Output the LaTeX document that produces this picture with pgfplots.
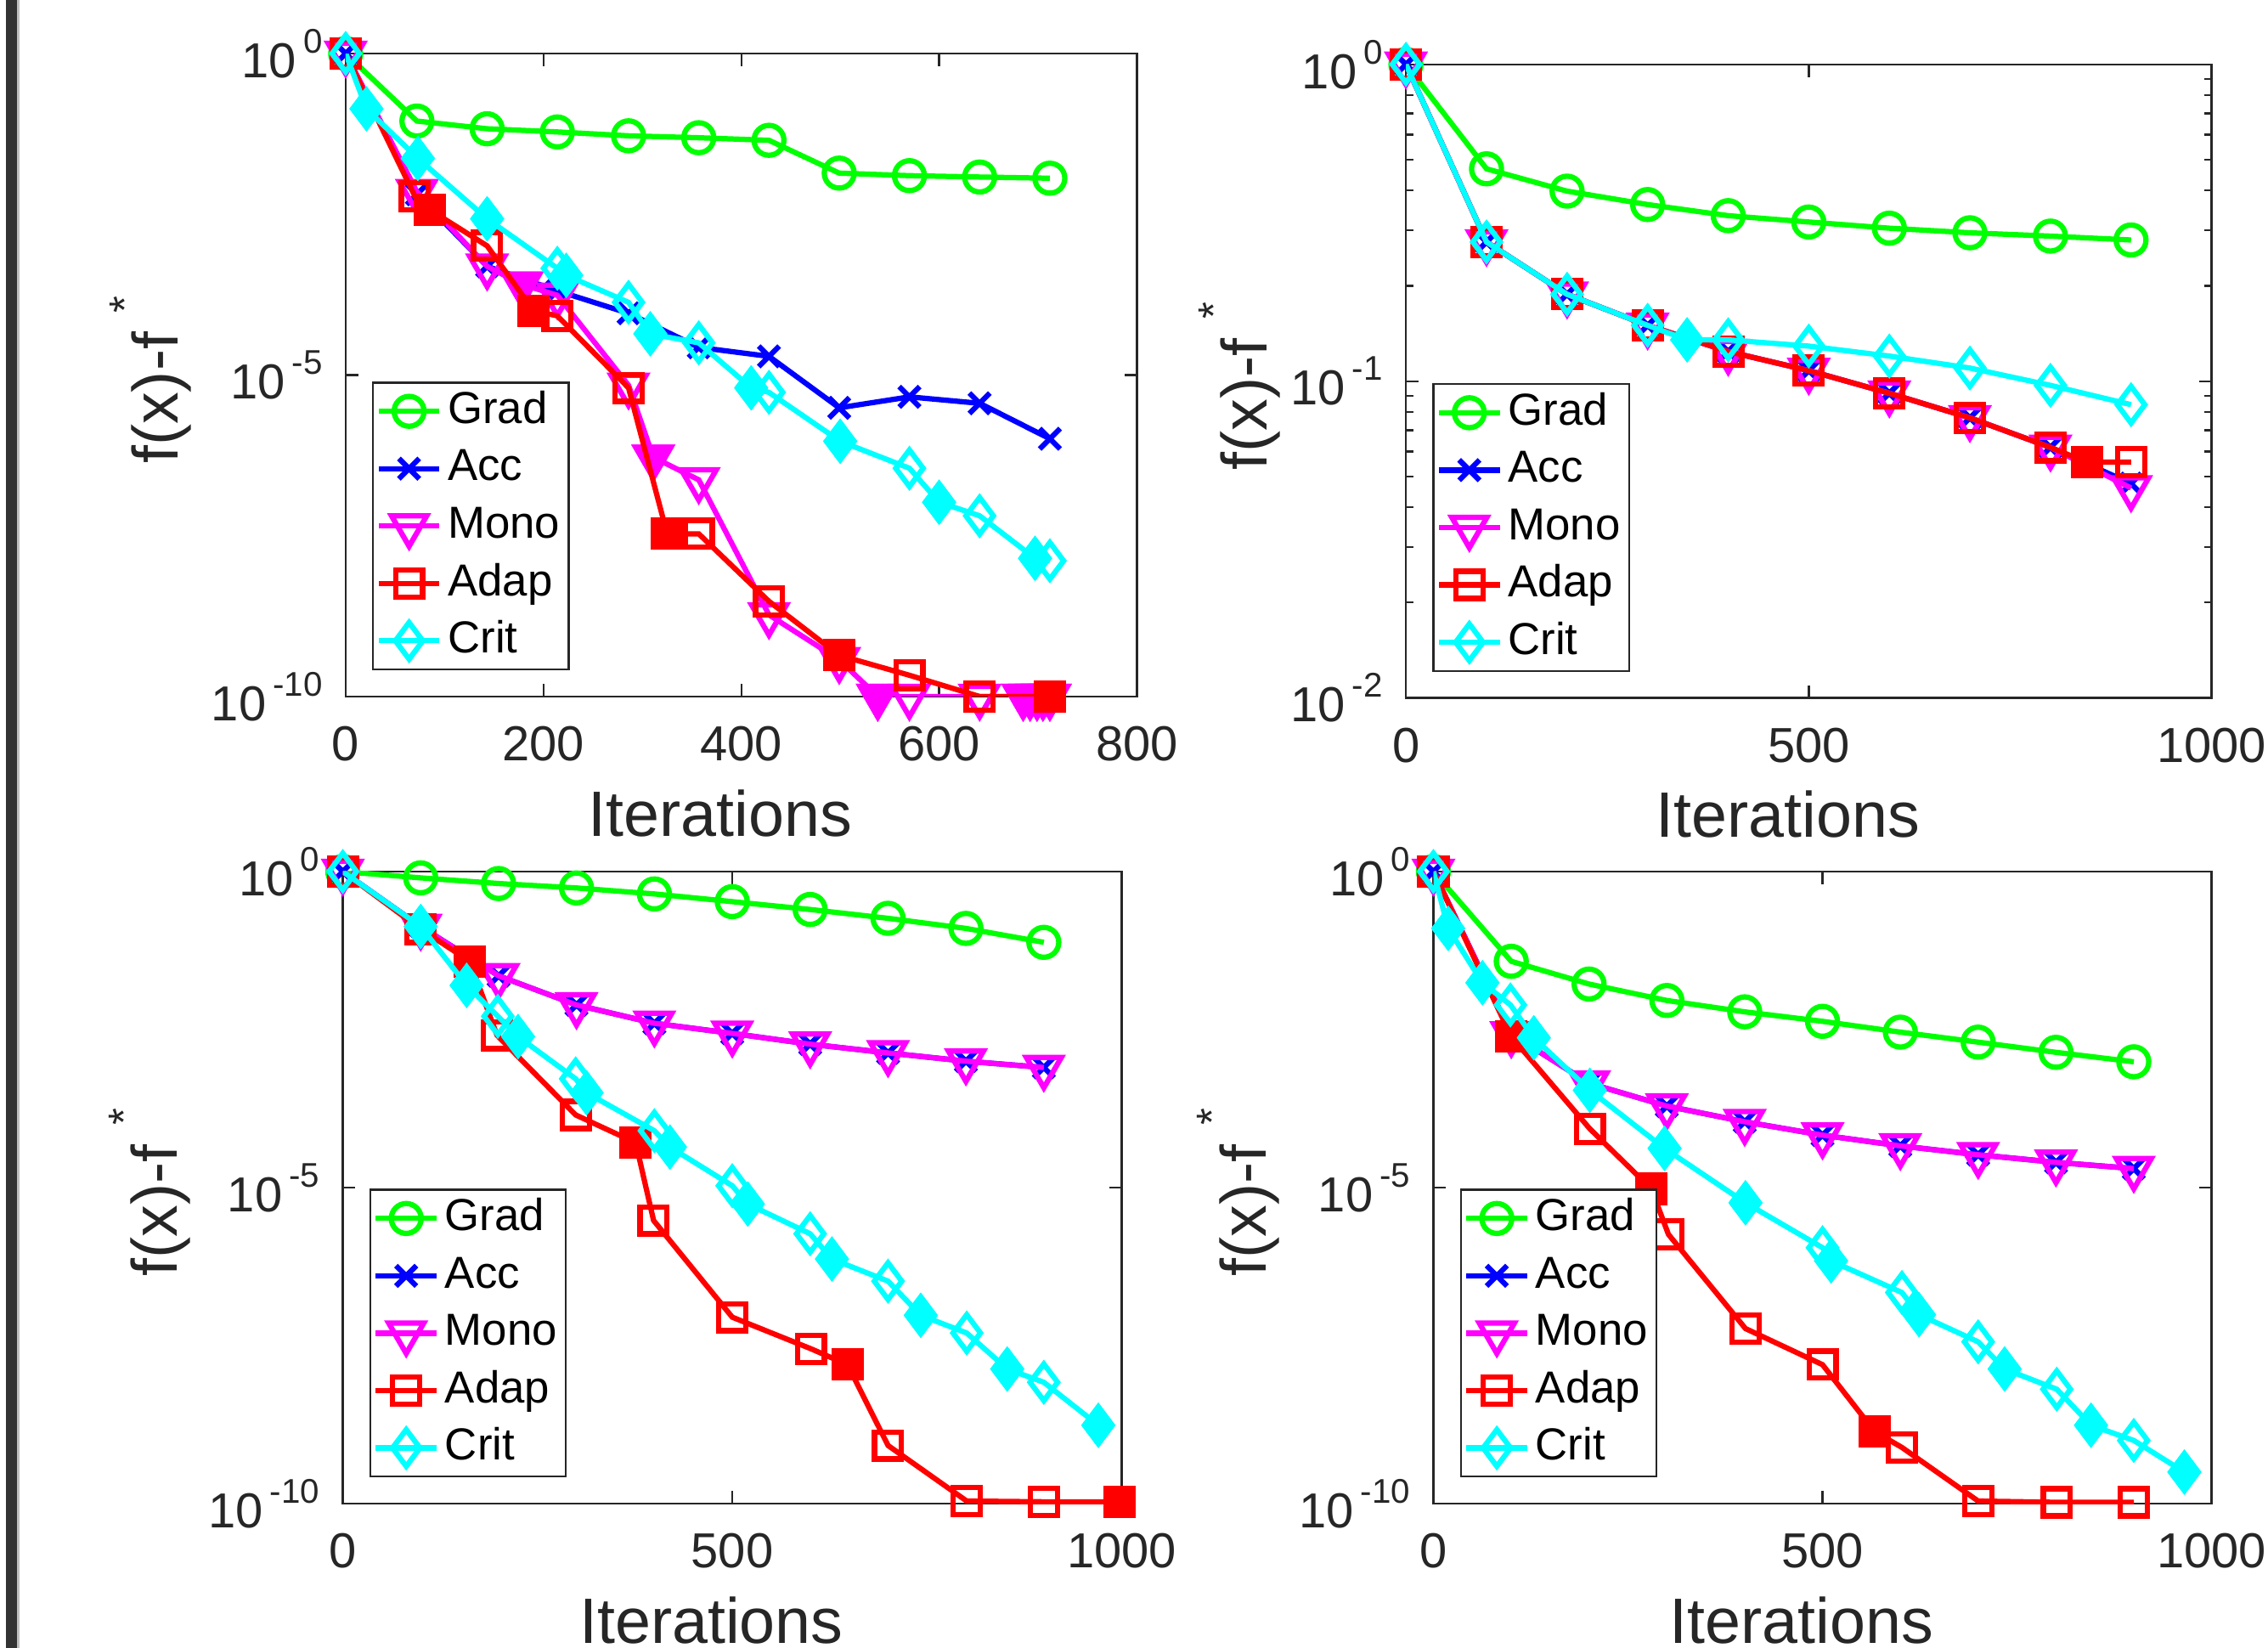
\documentclass[border=0pt]{standalone}
\usepackage{fontspec}
\setmainfont{Liberation Sans}
\usepackage{pgfplots}
\pgfplotsset{compat=1.18}
\definecolor{axgray}{rgb}{0.15,0.15,0.15}
\definecolor{barc}{rgb}{0.2,0.2,0.2}
\definecolor{cgreen}{rgb}{0,1,0}
\definecolor{cblue}{rgb}{0,0,1}
\definecolor{cmag}{rgb}{1,0,1}
\definecolor{cred}{rgb}{1,0,0}
\definecolor{ccyan}{rgb}{0,1,1}
\newcommand{\ylab}[1]{10\hspace{1.4pt}\raisebox{5.1pt}{\fontsize{7.1}{7.1}\selectfont #1}}
\newcommand{\fylab}{f(x)-f\hspace{4pt}\raisebox{8pt}{\fontsize{9}{9}\selectfont *}}
\newcommand{\labfont}{\fontsize{13.3}{14}\selectfont}

\pgfplotsset{
  panel/.style={
    scale only axis, clip mode=individual,
    axis line style={axgray, line width=0.4pt},
    tick style={axgray, line width=0.4pt},
    tick align=inside, major tick length=2.6pt, minor tick length=1.5pt,
    ticklabel style={font=\fontsize{10.2}{11}\selectfont, text=axgray},
    xticklabel style={anchor=center, yshift=-9.8pt},
    yticklabel style={anchor=east, xshift=-1.3pt},
    legend style={at={(0,0)}, anchor=south west, xshift=5.5pt, yshift=5.4pt,
      draw=axgray, line width=0.4pt, font=\fontsize{9.3}{10}\selectfont,
      inner xsep=0.6pt, inner ysep=0pt,
      nodes={inner xsep=1.2pt, inner ysep=1.45pt, text height=7pt, text depth=2pt}},
    legend cell align=left,
    legend image code/.code={\draw[mark repeat=2,mark phase=2] plot coordinates {(0pt,0pt)(6.3pt,0pt)(12.6pt,0pt)};},
    every axis plot/.append style={line width=1.1pt},
  },
  sgrad/.style={cgreen, mark=o, mark size=3.1pt},
  sacc/.style={cblue, mark=x, mark size=3pt},
  smono/.style={cmag, mark=triangle, mark size=4.2pt, mark options={rotate=180}},
  smonof/.style={cmag, only marks, mark=triangle*, mark size=4.2pt, mark options={rotate=180, fill=cmag}},
  sadap/.style={cred, mark=square, mark size=2.8pt},
  sadapf/.style={cred, only marks, mark=square*, mark size=2.8pt, mark options={fill=cred}},
  scrit/.style={ccyan, mark=diamond, mark size=3.8pt},
  scritf/.style={ccyan, only marks, mark=diamond*, mark size=3.8pt, mark options={fill=ccyan}},
}
\newcommand{\legs}{\addlegendentry{Grad}}

\begin{document}
\begin{tikzpicture}
\path[use as bounding box] (0,0) rectangle (470.4pt,-341.7pt);
\fill[barc] (1.2pt,0) rectangle (3.6pt,-341.7pt);
\fill[black!25] (3.6pt,0) rectangle (4.0pt,-341.7pt);

% top left
\begin{axis}[panel, ymode=log, log basis y=10, at={(71.7pt,-11.1pt)}, anchor=north west,
  width=164.1pt, height=133.35pt,
  xmin=0, xmax=800, xtick={0,200,400,600,800}, xticklabels={0,200,400,600,800},
  ymin=1e-10, ymax=1, ytick={1e-10,1e-5,1}, yminorticks=false,
  yticklabels={\ylab{-10},\ylab{-5},\ylab{0}}]
\addplot[sgrad] coordinates {(0,1)(72,0.0891)(143,0.0676)(214,0.0603)(286,0.0525)(357,0.0490)(428,0.0447)(499,0.0138)(570,0.0126)(641,0.0120)(712,0.0115)};
\addlegendentry{Grad}
\addplot[sacc] coordinates {(0,1)(72,6.46e-3)(143,4.90e-4)(214,2.04e-4)(286,9.12e-5)(357,2.69e-5)(428,1.95e-5)(499,3.09e-6)(570,4.57e-6)(641,3.63e-6)(712,1.02e-6)};
\addlegendentry{Acc}
\addplot[smono] coordinates {(0,1)(72,7.08e-3)(143,4.90e-4)(178,2.57e-4)(214,1.74e-4)(286,6.92e-6)(311,5.25e-7)(357,2.34e-7)(428,1.86e-9)(499,3.72e-10)(538,1e-10)(570,1e-10)(641,1e-10)(685,1e-10)(692,1e-10)(699,1e-10)(705,1e-10)(712,1e-10)};
\addlegendentry{Mono\hspace{2.5pt}}
\addplot[smonof, forget plot] coordinates {(178,2.57e-4)(311,5.25e-7)(538,1e-10)(685,1e-10)(692,1e-10)(699,1e-10)(705,1e-10)(712,1e-10)};
\addplot[sadap] coordinates {(0,1)(70,6.03e-3)(85,3.72e-3)(143,1.02e-3)(190,1e-4)(214,8.32e-5)(286,6.31e-6)(325,3.39e-8)(357,3.39e-8)(428,3.02e-9)(499,4.37e-10)(570,2.14e-10)(641,1e-10)(712,1e-10)};
\addlegendentry{Adap}
\addplot[sadapf, forget plot] coordinates {(85,3.72e-3)(190,1e-4)(325,3.39e-8)(499,4.37e-10)(712,1e-10)};
\addplot[scrit] coordinates {(0,1)(21,0.138)(73,0.0234)(143,2.69e-3)(214,4.57e-4)(223,3.55e-4)(286,1.35e-4)(308,4.37e-5)(357,3.16e-5)(410,6.31e-6)(428,5.37e-6)(500,9.33e-7)(570,3.55e-7)(600,1.05e-7)(641,6.46e-8)(697,1.41e-8)(712,1.29e-8)};
\addlegendentry{Crit}
\addplot[scritf, forget plot] coordinates {(21,0.138)(73,0.0234)(143,2.69e-3)(223,3.55e-4)(308,4.37e-5)(410,6.31e-6)(500,9.33e-7)(600,1.05e-7)(697,1.41e-8)};
\node[rotate=90, font=\labfont, text=axgray] at ([xshift=-40.5pt,yshift=-1pt]axis description cs:0,0.5) {\fylab};
\node[font=\labfont, text=axgray] at ([xshift=-4.35pt,yshift=-24.2pt]axis description cs:0.5,0) {Iterations};
\end{axis}

% top right
\begin{axis}[panel, ymode=log, log basis y=10, at={(291.6pt,-13.35pt)}, anchor=north west,
  width=167.1pt, height=131.4pt,
  xmin=0, xmax=1000, xtick={0,500,1000}, xticklabels={0,500,1000},
  ymin=1e-2, ymax=1, ytick={1e-2,1e-1,1},
  minor ytick={0.02,0.03,0.04,0.05,0.06,0.07,0.08,0.09,0.2,0.3,0.4,0.5,0.6,0.7,0.8,0.9},
  yticklabels={\ylab{-2},\ylab{-1},\ylab{0}}]
\addplot[sgrad] coordinates {(0,1)(100,0.468)(200,0.398)(300,0.361)(400,0.333)(500,0.318)(600,0.304)(700,0.294)(800,0.287)(900,0.279)};
\addlegendentry{Grad}
\addplot[sacc] coordinates {(0,1)(100,0.275)(200,0.188)(300,0.150)(400,0.124)(500,0.108)(600,0.0916)(700,0.0766)(800,0.0618)(900,0.0475)};
\addlegendentry{Acc}
\addplot[smono] coordinates {(0,1)(100,0.275)(200,0.188)(300,0.150)(400,0.124)(500,0.108)(600,0.0916)(700,0.0766)(800,0.0618)(900,0.0460)};
\addlegendentry{Mono\hspace{2.5pt}}
\addplot[sadap] coordinates {(0,1)(100,0.275)(200,0.188)(300,0.150)(400,0.124)(500,0.108)(600,0.0916)(700,0.0766)(800,0.0618)(845,0.0555)(900,0.0555)};
\addlegendentry{Adap}
\addplot[sadapf, forget plot] coordinates {(845,0.0555)};
\addplot[scrit] coordinates {(0,1)(100,0.275)(200,0.188)(300,0.150)(349,0.135)(400,0.135)(500,0.129)(600,0.120)(700,0.110)(800,0.0970)(900,0.0843)};
\addlegendentry{Crit}
\addplot[scritf, forget plot] coordinates {(349,0.135)};
\node[rotate=90, font=\labfont, text=axgray] at ([xshift=-34.5pt,yshift=-1pt]axis description cs:0,0.5) {\fylab};
\node[font=\labfont, text=axgray] at ([xshift=-4.35pt,yshift=-24.2pt]axis description cs:0.5,0) {Iterations};
\end{axis}

% bottom left
\begin{axis}[panel, ymode=log, log basis y=10, at={(71.1pt,-180.75pt)}, anchor=north west,
  width=161.55pt, height=131.1pt,
  xmin=0, xmax=1000, xtick={0,500,1000}, xticklabels={0,500,1000},
  ymin=1e-10, ymax=1, ytick={1e-10,1e-5,1}, yminorticks=false,
  yticklabels={\ylab{-10},\ylab{-5},\ylab{0}}]
\addplot[sgrad] coordinates {(0,1)(100,0.794)(200,0.646)(300,0.550)(400,0.442)(500,0.334)(600,0.251)(700,0.182)(800,0.126)(900,0.0759)};
\addlegendentry{Grad}
\addplot[sacc] coordinates {(0,1)(100,0.135)(200,0.0224)(300,7.76e-3)(400,3.98e-3)(500,2.75e-3)(600,1.86e-3)(700,1.35e-3)(800,1.0e-3)(900,7.94e-4)};
\addlegendentry{Acc}
\addplot[smono] coordinates {(0,1)(100,0.135)(200,0.0224)(300,7.76e-3)(400,3.98e-3)(500,2.75e-3)(600,1.86e-3)(700,1.35e-3)(800,1.0e-3)(900,7.94e-4)};
\addlegendentry{Mono\hspace{2.5pt}}
\addplot[sadap] coordinates {(0,1)(100,0.123)(163,0.0380)(198,2.57e-3)(299,1.41e-4)(376,5.13e-5)(399,3.02e-6)(500,8.91e-8)(601,2.82e-8)(648,1.58e-8)(700,8.32e-10)(801,1.10e-10)(900,1.07e-10)(997,1.07e-10)};
\addlegendentry{Adap}
\addplot[sadapf, forget plot] coordinates {(163,0.0380)(376,5.13e-5)(648,1.58e-8)(997,1.07e-10)};
\addplot[scrit] coordinates {(0,1)(100,0.135)(159,0.0158)(199,5.13e-3)(225,2.45e-3)(299,5.25e-4)(313,3.16e-4)(400,7.94e-5)(420,4.37e-5)(500,1.07e-5)(520,5.50e-6)(600,1.86e-6)(628,7.41e-7)(700,3.31e-7)(742,9.55e-8)(801,5.01e-8)(853,1.35e-8)(900,8.32e-9)(970,1.74e-9)};
\addlegendentry{Crit}
\addplot[scritf, forget plot] coordinates {(100,0.135)(159,0.0158)(225,2.45e-3)(313,3.16e-4)(420,4.37e-5)(520,5.50e-6)(628,7.41e-7)(742,9.55e-8)(853,1.35e-8)(970,1.74e-9)};
\node[rotate=90, font=\labfont, text=axgray] at ([xshift=-40pt,yshift=-1pt]axis description cs:0,0.5) {\fylab};
\node[font=\labfont, text=axgray] at ([xshift=-4.35pt,yshift=-24.2pt]axis description cs:0.5,0) {Iterations};
\end{axis}

% bottom right
\begin{axis}[panel, ymode=log, log basis y=10, at={(297.3pt,-180.75pt)}, anchor=north west,
  width=161.4pt, height=131.1pt,
  xmin=0, xmax=1000, xtick={0,500,1000}, xticklabels={0,500,1000},
  ymin=1e-10, ymax=1, ytick={1e-10,1e-5,1}, yminorticks=false,
  yticklabels={\ylab{-10},\ylab{-5},\ylab{0}}]
\addplot[sgrad] coordinates {(0,1)(100,0.0380)(200,0.0166)(300,9.12e-3)(400,6.03e-3)(500,4.27e-3)(600,2.88e-3)(700,2.0e-3)(800,1.38e-3)(900,9.77e-4)};
\addlegendentry{Grad}
\addplot[sacc] coordinates {(0,1)(100,2.69e-3)(200,4.47e-4)(300,1.95e-4)(400,1.10e-4)(500,6.76e-5)(600,4.57e-5)(700,3.31e-5)(800,2.51e-5)(900,2.0e-5)};
\addlegendentry{Acc}
\addplot[smono] coordinates {(0,1)(100,2.69e-3)(200,4.47e-4)(300,1.95e-4)(400,1.10e-4)(500,6.76e-5)(600,4.57e-5)(700,3.31e-5)(800,2.51e-5)(900,2.0e-5)};
\addlegendentry{Mono\hspace{2.5pt}}
\addplot[sadap] coordinates {(0,1)(100,2.45e-3)(201,8.51e-5)(280,9.55e-6)(302,1.82e-6)(401,5.89e-8)(500,1.58e-8)(567,1.38e-9)(602,7.76e-10)(700,1.10e-10)(801,1.05e-10)(900,1.05e-10)};
\addlegendentry{Adap}
\addplot[sadapf, forget plot] coordinates {(100,2.45e-3)(280,9.55e-6)(567,1.38e-9)};
\addplot[scrit] coordinates {(0,1)(19,0.126)(63,0.0174)(99,7.76e-3)(129,2.34e-3)(201,3.47e-4)(297,4.17e-5)(401,5.75e-6)(500,1.12e-6)(511,6.92e-7)(602,2.19e-7)(624,9.77e-8)(700,3.63e-8)(734,1.35e-8)(801,6.46e-9)(845,1.74e-9)(900,1.0e-9)(965,3.16e-10)};
\addlegendentry{Crit}
\addplot[scritf, forget plot] coordinates {(19,0.126)(63,0.0174)(129,2.34e-3)(201,3.47e-4)(297,4.17e-5)(401,5.75e-6)(511,6.92e-7)(624,9.77e-8)(734,1.35e-8)(845,1.74e-9)(965,3.16e-10)};
\node[rotate=90, font=\labfont, text=axgray] at ([xshift=-40.5pt,yshift=-1pt]axis description cs:0,0.5) {\fylab};
\node[font=\labfont, text=axgray] at ([xshift=-4.35pt,yshift=-24.2pt]axis description cs:0.5,0) {Iterations};
\end{axis}
\end{tikzpicture}
\end{document}
